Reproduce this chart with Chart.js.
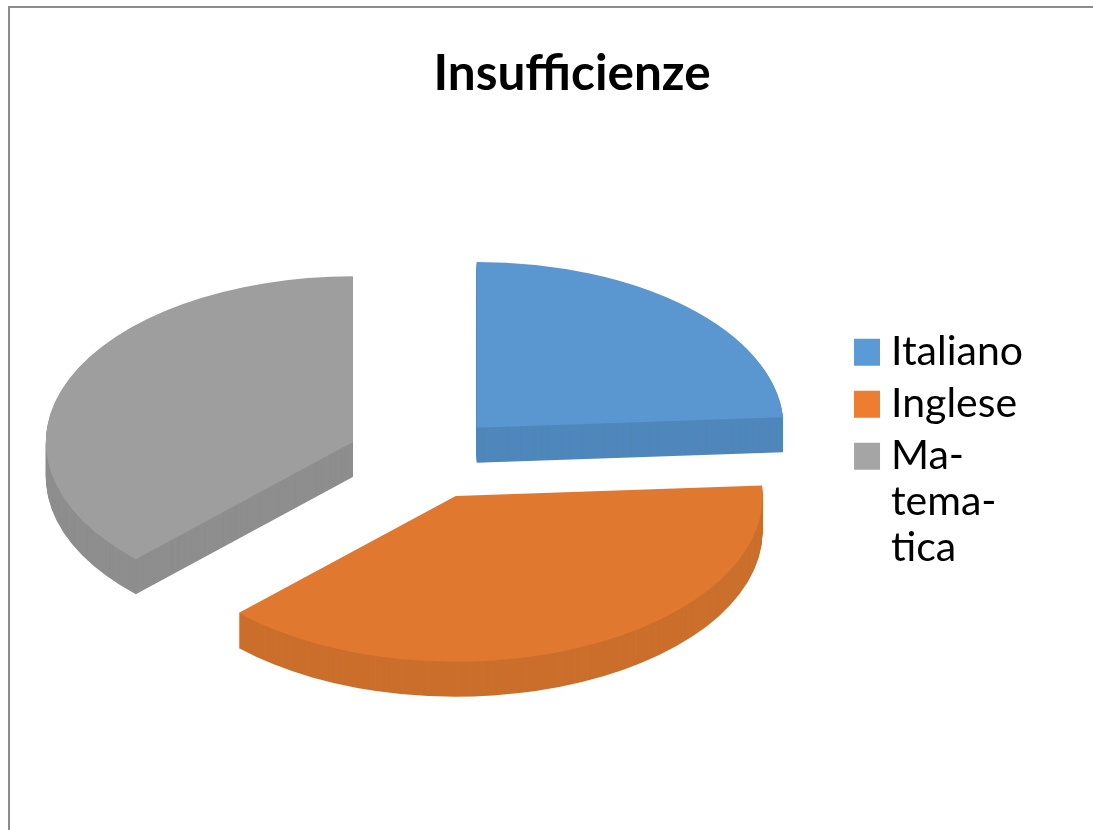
<!DOCTYPE html>
<html>
<head>
<meta charset="utf-8">
<title>Insufficienze</title>
<script src="https://cdn.jsdelivr.net/npm/chart.js@4"></script>
<style>
  html, body { margin: 0; background: #ffffff; }
  #frame { position: absolute; left: 8px; top: 6px; width: 1085px; height: 824px; border-left: 2px solid #8c8c8c; border-top: 2px solid #8c8c8c; box-sizing: border-box; }
  #chart { position: absolute; left: 0; top: 0; }
</style>
</head>
<body>
<div id="frame"></div>
<canvas id="chart" width="1093" height="830"></canvas>
<script>
const categories = ["Italiano", "Inglese", ["Ma-", "tema-", "tica"]];
const values = [24, 38.5, 37.5];
const topColors = ["#5a96cf", "#e0782f", "#9e9e9e"];
const wallColors = ["#4f87bb", "#cb6f2c", "#8e8e8e"];
const legendColors = ["#5b9bd5", "#ed7d31", "#a5a5a5"];

const PIE_X = 424;
const PIE_Y = 458;
const TILT = 0.54;
const DEPTH = 35;
const EXPLODE = 77;

// tilts the pie and extrudes each slice, the library only gives flat ones
const tiltedPie = {
  id: "tiltedPie",
  beforeDatasetDraw(chart, args) {
    const ctx = chart.ctx;
    const arcs = args.meta.data;
    const paint = (arc, drop) => {
      const mid = (arc.startAngle + arc.endAngle) / 2;
      ctx.save();
      ctx.translate(PIE_X, PIE_Y + drop);
      ctx.scale(1, TILT);
      ctx.translate(Math.cos(mid) * EXPLODE - arc.x, Math.sin(mid) * EXPLODE - arc.y);
      arc.draw(ctx);
      ctx.restore();
    };
    arcs.forEach((arc, i) => {
      const flat = arc.options;
      arc.options = { ...flat, backgroundColor: wallColors[i] };
      for (let d = DEPTH; d > 0; d--) paint(arc, d);
      arc.options = flat;
    });
    arcs.forEach((arc) => paint(arc, 0));
    return false;
  },
};

new Chart(document.getElementById("chart"), {
  type: "pie",
  plugins: [tiltedPie],
  data: {
    labels: categories,
    datasets: [
      {
        data: values,
        backgroundColor: topColors,
        borderWidth: 0,
        radius: 307,
        clip: false,
      },
    ],
  },
  options: {
    responsive: false,
    animation: false,
    events: [],
    layout: { padding: { left: 111, top: 44, right: 60, bottom: 28 } },
    plugins: {
      tooltip: { enabled: false },
      title: {
        display: true,
        text: "Insufficienze",
        color: "#000000",
        font: { family: "Lato", size: 49.5, weight: "bold" },
        padding: { top: 0, bottom: 0 },
      },
      legend: {
        position: "right",
        fullSize: false,
        labels: {
          color: "#000000",
          font: { family: "Lato", size: 41, lineHeight: 1.122 },
          // small box + thick stroke of the same colour keeps the label close to the swatch
          boxWidth: 7,
          boxHeight: 8,
          padding: 11,
          generateLabels(chart) {
            return Chart.overrides.pie.plugins.legend.labels.generateLabels(chart).map((item, i) => ({
              ...item,
              fillStyle: legendColors[i],
              strokeStyle: legendColors[i],
              lineWidth: 19,
            }));
          },
        },
      },
    },
  },
});
</script>
</body>
</html>
